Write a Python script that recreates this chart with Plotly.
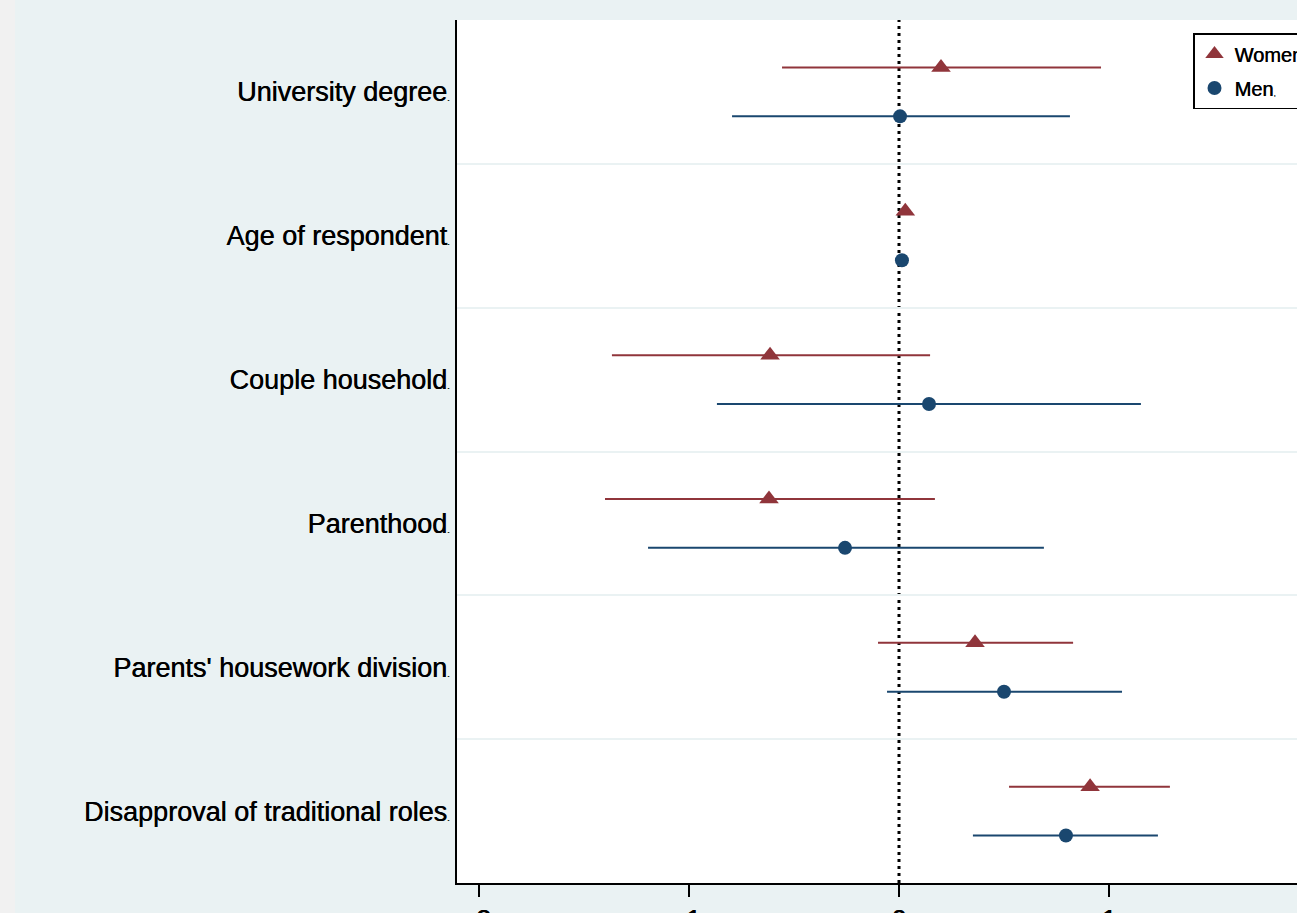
import plotly.graph_objects as go

categories = ["University degree", "Age of respondent", "Couple household",
              "Parenthood", "Parents' housework division", "Disapproval of traditional roles"]

women_coef = [0.20, 0.03, -0.614, -0.619, 0.362, 0.910]
women_lo = [-0.557, 0.015, -1.367, -1.400, -0.100, 0.524]
women_hi = [0.962, 0.045, 0.148, 0.171, 0.829, 1.290]

men_coef = [0.005, 0.014, 0.143, -0.257, 0.500, 0.795]
men_lo = [-0.795, 0.004, -0.867, -1.195, -0.057, 0.352]
men_hi = [0.814, 0.024, 1.152, 0.690, 1.062, 1.233]

xtick_vals = [-2, -1, 0, 1]
xtick_text = ["-2", "-1", "0", "1"]

WOMEN_C = "#90353B"
MEN_C = "#1A476F"
BG = "#EAF2F3"
SHADOW = "0.45px 0 0 #000"

W, H = 1297, 913
L, T, B = 457, 20, 30
PW = W - L
PH = H - T - B

pos = list(range(1, len(categories) + 1))
off = 0.17

fig = go.Figure()
fig.add_trace(go.Scatter(
    x=women_coef, y=[p - off for p in pos], mode="markers", name="Women",
    legendgroup="w",
    marker=dict(symbol="triangle-up", size=17, color=WOMEN_C),
    error_x=dict(type="data", symmetric=False,
                 array=[h - c for h, c in zip(women_hi, women_coef)],
                 arrayminus=[c - l for c, l in zip(women_coef, women_lo)],
                 color=WOMEN_C, thickness=2, width=0),
))
fig.add_trace(go.Scatter(
    x=men_coef, y=[p + off for p in pos], mode="markers", name="Men<span style='font-size:8px'>,</span>",
    legendgroup="m",
    marker=dict(symbol="circle", size=14, color=MEN_C),
    error_x=dict(type="data", symmetric=False,
                 array=[h - c for h, c in zip(men_hi, men_coef)],
                 arrayminus=[c - l for c, l in zip(men_coef, men_lo)],
                 color=MEN_C, thickness=2, width=0),
))

fig.add_shape(type="line", xref="x", yref="paper", x0=0, x1=0, y0=0, y1=1,
              line=dict(color="black", width=3, dash="3px,4px"), layer="below")
# outer page strip at far left
fig.add_shape(type="rect", xref="paper", yref="paper", x0=-L / PW - 0.01, x1=(15 - L) / PW,
              y0=-0.1, y1=1.1, fillcolor="#F1F1F1", line=dict(width=0), layer="below")

fig.update_layout(
    width=W, height=H, autosize=False,
    margin=dict(l=L, r=0, t=T, b=B, autoexpand=False),
    paper_bgcolor=BG, plot_bgcolor="white",
    font=dict(family="Liberation Sans, Arial, sans-serif", color="black", size=27),
    showlegend=True,
    legend=dict(x=(1193 - L) / PW, y=1 - (33 - T) / PH, xanchor="left", yanchor="top",
                bgcolor="white", bordercolor="black", borderwidth=1.5,
                font=dict(size=20, shadow=SHADOW), traceorder="grouped", tracegroupgap=5,
                itemwidth=30),
    xaxis=dict(range=[(L - 899) / 210, (W - 899) / 210], tickvals=xtick_vals, ticktext=xtick_text,
               showgrid=False, zeroline=False, showline=True, linecolor="black", linewidth=2,
               ticks="outside", ticklen=12, tickwidth=2, tickcolor="black", automargin=False,
               tickfont=dict(size=27, shadow=SHADOW)),
    yaxis=dict(range=[6.5, 0.5], tickvals=pos,
               ticktext=[c + "<span style='font-size:9px'>.</span>" for c in categories],
               showgrid=False, zeroline=False, showline=True, linecolor="black", linewidth=2,
               ticks="", automargin=False, tickfont=dict(size=27, shadow=SHADOW),
               minor=dict(tickvals=[1.5, 2.5, 3.5, 4.5, 5.5], showgrid=True, gridcolor=BG,
                          gridwidth=2, ticks="")),
)

fig.write_html(
    "out.html",
    config={"responsive": False, "displayModeBar": False},
    post_script=(
        "document.body.style.margin='0px';"
        "document.body.style.overflow='hidden';"
        "document.documentElement.style.overflow='hidden';"
        "var gd=document.getElementById('{plot_id}');"
        "Plotly.relayout(gd,{width:%d,height:%d});" % (W, H)
    ),
)
